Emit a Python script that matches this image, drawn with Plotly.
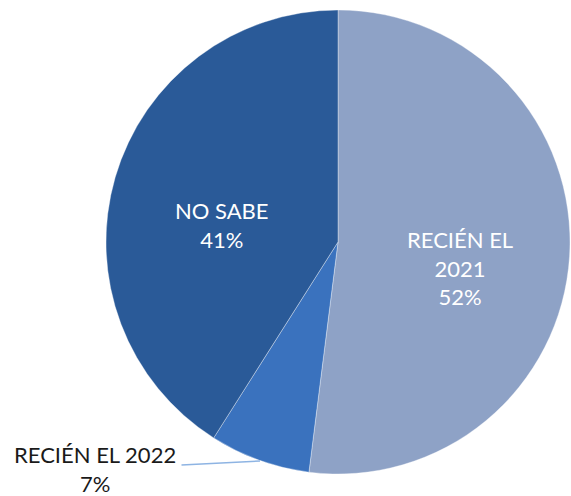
import plotly.graph_objects as go

categories = ["RECIÉN EL 2021", "RECIÉN EL 2022", "NO SABE"]
values = [52, 7, 41]
colors = ["#8EA2C6", "#3A72BE", "#2A5A98"]

W, H = 571, 496
cx, cy, r = 338, 242, 232

fig = go.Figure(go.Pie(
    labels=categories,
    values=values,
    sort=False,
    direction="clockwise",
    rotation=0,
    textinfo="none",
    hoverinfo="label+percent",
    marker=dict(colors=colors, line=dict(color="rgba(255,255,255,0.35)", width=1)),
    domain=dict(x=[(cx - r) / W, (cx + r) / W], y=[1 - (cy + r) / H, 1 - (cy - r) / H]),
    showlegend=False,
))

total = sum(values)
pct = [f"{round(v * 100 / total)}%" for v in values]

font_in = dict(family="Lato, 'Open Sans', sans-serif", size=22, color="white")
font_out = dict(family="Lato, 'Open Sans', sans-serif", size=22, color="#1a1a1a")

# inside labels
fig.add_annotation(x=460, y=268, xref="x", yref="y", showarrow=False,
                   text="RECIÉN EL<br>2021<br>" + pct[0], font=font_in)
fig.add_annotation(x=222, y=225, xref="x", yref="y", showarrow=False,
                   text="NO SABE<br>" + pct[2], font=font_in)
# outside label with leader line
fig.add_annotation(x=260, y=461, ax=180, ay=465, xref="x", yref="y", axref="x", ayref="y",
                   showarrow=True, arrowhead=0, arrowwidth=1.5, arrowcolor="#8EB4E3",
                   text="")
fig.add_annotation(x=95, y=469, xref="x", yref="y", showarrow=False,
                   text=categories[1] + "<br>" + pct[1], font=font_out)

fig.update_layout(
    width=W, height=H,
    margin=dict(l=0, r=0, t=0, b=0),
    paper_bgcolor="white", plot_bgcolor="rgba(0,0,0,0)",
    xaxis=dict(range=[0, W], visible=False, fixedrange=True),
    yaxis=dict(range=[H, 0], visible=False, fixedrange=True),
)

fig.write_html("out.html", config={"displayModeBar": False})

with open("out.html", "r", encoding="utf-8") as f:
    html = f.read()
html = html.replace("<head>", "<head><style>html,body{margin:0;padding:0;overflow:hidden;}</style>", 1)
with open("out.html", "w", encoding="utf-8") as f:
    f.write(html)
